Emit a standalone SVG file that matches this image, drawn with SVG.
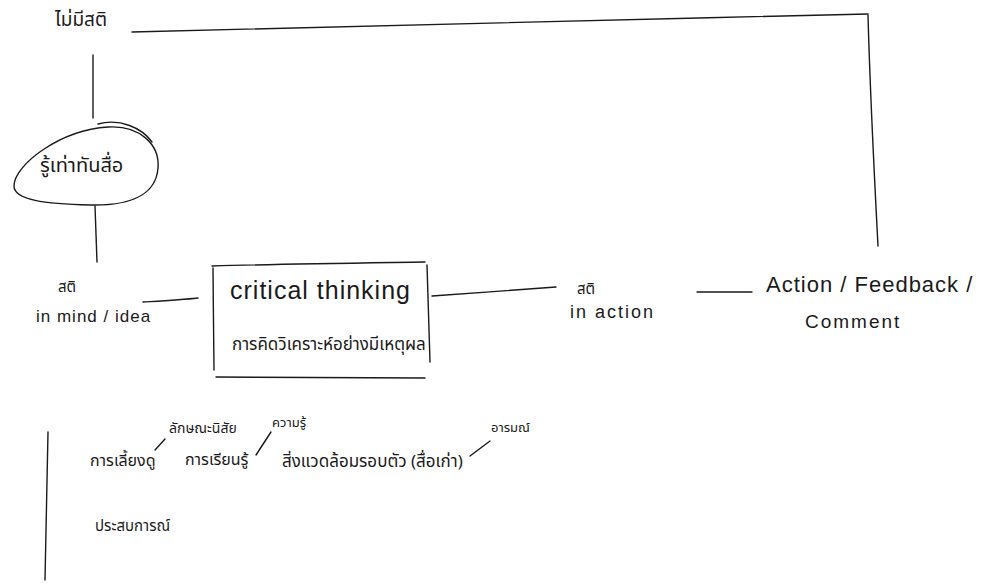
<svg xmlns="http://www.w3.org/2000/svg" width="997" height="584" viewBox="0 0 997 584">
  <style>
    .ink { fill: none; stroke: #1a1a1a; stroke-width: 1.4; stroke-linecap: round; stroke-linejoin: round; }
    .t { font-family: "Noto Sans Thai", "Noto Sans", "Liberation Sans", sans-serif; fill: #1a1a1a; }
    .en { font-family: "Liberation Sans", sans-serif; fill: #1a1a1a; font-weight: 300; }
  </style>
  <rect width="997" height="584" fill="#ffffff"/>

  <!-- connectors -->
  <g id="connectors">
    <!-- top loop: no-mindfulness back to action/feedback -->
    <path class="ink" d="M132 32 C 300 28, 600 20, 868 14"/>
    <path class="ink" d="M868 15 C 870 90, 874 170, 878 246"/>
    <!-- left stem -->
    <path class="ink" d="M93 55 L 93 118"/>
    <path class="ink" d="M95 206 L 97 262"/>
    <!-- main row -->
    <path class="ink" d="M143 302 C 160 301, 180 300, 198 298"/>
    <path class="ink" d="M432 296 C 470 293, 520 290, 556 287"/>
    <path class="ink" d="M697 292 L 752 292"/>
    <!-- lower factors -->
    <path class="ink" d="M48 432 C 47 480, 46 530, 45 580"/>
    <path class="ink" d="M155 450 L 165 439"/>
    <path class="ink" d="M256 455 L 271 432"/>
    <path class="ink" d="M470 456 L 490 441"/>
  </g>

  <!-- not mindful -->
  <g id="node-no-sati">
    <text class="t" x="55" y="26" font-size="19">ไม่มีสติ</text>
  </g>

  <!-- media literacy bubble -->
  <g id="node-media-literacy">
    <path class="ink" d="M14 186 C 14 165, 60 130, 108 127 C 140 125, 160 145, 158 168 C 156 195, 130 206, 90 205 C 45 204, 14 200, 14 186 Z"/>
    <path class="ink" d="M98 124 C 120 118, 142 128, 152 142"/>
    <text class="t" x="40" y="172" font-size="20">รู้เท่าทันสื่อ</text>
  </g>

  <!-- mindfulness in mind -->
  <g id="node-sati-mind">
    <text class="t" x="58" y="292" font-size="15">สติ</text>
    <text class="en" x="36" y="322" font-size="17" letter-spacing="1">in mind / idea</text>
  </g>

  <!-- critical thinking box -->
  <g id="node-critical-thinking">
    <path class="ink" d="M212 266 C 280 264, 360 263, 425 262"/>
    <path class="ink" d="M213 268 C 213 300, 214 340, 214 370"/>
    <path class="ink" d="M427 265 C 428 300, 429 335, 430 362"/>
    <path class="ink" d="M216 377 C 290 378, 360 378, 425 378"/>
    <text class="en" x="230" y="299" font-size="25" letter-spacing="1">critical  thinking</text>
    <text class="t" x="232" y="350" font-size="17">การคิดวิเคราะห์อย่างมีเหตุผล</text>
  </g>

  <!-- mindfulness in action -->
  <g id="node-sati-action">
    <text class="t" x="577" y="294" font-size="15">สติ</text>
    <text class="en" x="570" y="318" font-size="18" letter-spacing="2">in action</text>
  </g>

  <!-- action / feedback / comment -->
  <g id="node-feedback">
    <text class="en" x="766" y="292" font-size="22" letter-spacing="1">Action /  Feedback /</text>
    <text class="en" x="805" y="328" font-size="19" letter-spacing="2">Comment</text>
  </g>

  <!-- influencing factors -->
  <g id="node-factors">
    <text class="t" x="90" y="466" font-size="16">การเลี้ยงดู</text>
    <text class="t" x="169" y="433" font-size="14">ลักษณะนิสัย</text>
    <text class="t" x="185" y="465" font-size="16">การเรียนรู้</text>
    <text class="t" x="272" y="427" font-size="13">ความรู้</text>
    <text class="t" x="282" y="467" font-size="17">สิ่งแวดล้อมรอบตัว (สื่อเก่า)</text>
    <text class="t" x="491" y="432" font-size="13">อารมณ์</text>
    <text class="t" x="95" y="531" font-size="15">ประสบการณ์</text>
  </g>
</svg>
